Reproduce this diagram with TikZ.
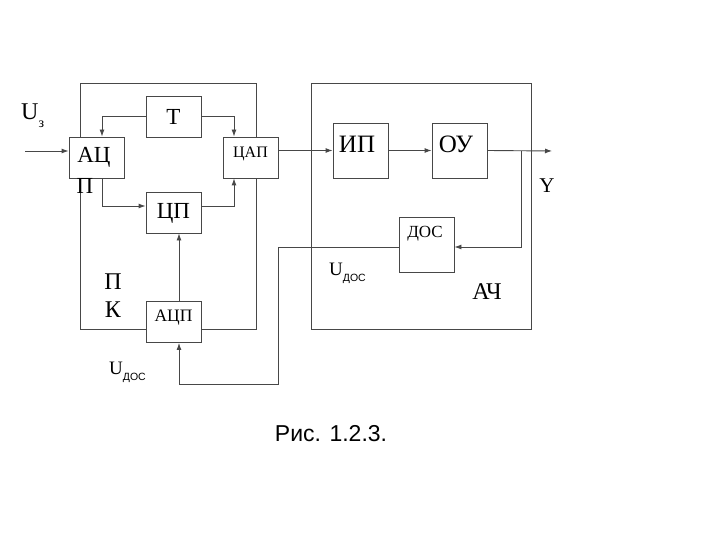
\documentclass[tikz,border=0pt]{standalone}
\usepackage{fontspec}
\setmainfont{Liberation Serif}
\newfontfamily\sansf{Liberation Sans}
\usetikzlibrary{arrows.meta}
\begin{document}
\begin{tikzpicture}[x=1pt,y=-1pt,
  ln/.style={draw=black!72, line width=0.9pt},
  frame/.style={ln, inner sep=0pt},
  blk/.style={ln, fill=white, inner sep=0pt, minimum width=55pt, minimum height=41pt},
  arr/.style={ln, -{Latex[length=7pt,width=5pt]}},
  txt/.style={inner sep=0pt, font=\fontsize{23}{23}\selectfont},
  small/.style={inner sep=0pt, font=\fontsize{16}{16}\selectfont}]
\useasboundingbox (0,0) rectangle (720,540);
% frames
\node[frame, minimum width=176pt, minimum height=246pt] (PK) at (168,206) {};
\node[frame, minimum width=220pt, minimum height=246pt] (ACh) at (421,206) {};
% blocks
\node[blk] (T) at (173.5,116.5) {};
\node[blk] (AC) at (96.5,157.5) {};
\node[blk] (DAC) at (250.5,157.5) {};
\node[blk] (CP) at (173.5,212.5) {};
\node[blk] (ADC) at (173.5,322) {};
\node[blk, minimum height=55pt] (IP) at (360.5,150.5) {};
\node[blk, minimum height=55pt] (OU) at (459.5,150.5) {};
\node[blk, minimum height=55pt] (DOS) at (426.5,244.5) {};
% texts
\node[txt] (tT) at (173.5,117) {Т};
\node[txt] (tAC) at (94,157) {АЦ};
\node[txt] (tACp) at (85,186) {П};
\node[small] (tDAC) at (250.5,154) {ЦАП};
\node[txt] (tCP) at (173.5,213) {ЦП};
\node[inner sep=0pt, font=\fontsize{17.5}{17.5}\selectfont] (tADC) at (173.5,318) {АЦП};
\node[inner sep=0pt, font=\fontsize{25}{25}\selectfont] (tIP) at (357,144) {ИП};
\node[inner sep=0pt, font=\fontsize{25}{25}\selectfont] (tOU) at (456,144) {ОУ};
\node[inner sep=0pt, font=\fontsize{17}{17}\selectfont] (tDOS) at (425,234) {ДОС};
\node[inner sep=0pt, font=\fontsize{24}{24}\selectfont] (tACh) at (487,292) {АЧ};
\node[inner sep=0pt, font=\fontsize{24}{24}\selectfont] (tP) at (113,282) {П};
\node[inner sep=0pt, font=\fontsize{24}{24}\selectfont] (tK) at (113,310) {К};
\node[inner sep=0pt, font=\fontsize{21}{21}\selectfont] (tY) at (547,186) {Y};
\node[inner sep=0pt, font=\fontsize{24}{24}\selectfont, anchor=west] (tUz) at (21,116) {U\raisebox{-0.35em}{\fontsize{14}{14}\selectfont з}};
\node[inner sep=0pt, font=\fontsize{19}{19}\selectfont, anchor=west] (tU1) at (109,372) {U\raisebox{-0.3em}{\sansf\fontsize{10.5}{10.5}\selectfont ДОС}};
\node[inner sep=0pt, font=\fontsize{19}{19}\selectfont, anchor=west] (tU2) at (329,273) {U\raisebox{-0.3em}{\sansf\fontsize{10.5}{10.5}\selectfont ДОС}};
\node[inner sep=0pt, font=\sansf\fontsize{23}{23}\selectfont] (cap) at (331,434) {Рис. 1.2.3.};
% connectors
\coordinate (in) at (25,151);
\coordinate (out) at (552,151);
\coordinate (br) at (521,151);
\coordinate (fb) at (278,384);
\draw[arr] (in) -- ([yshift=6.5pt]AC.west);
\draw[arr] (T.west) -| ([xshift=5.5pt]AC.north);
\draw[arr] (T.east) -| ([xshift=-16.5pt]DAC.north);
\draw[arr] ([xshift=5.5pt]AC.south) |- ([yshift=6.5pt]CP.west);
\draw[arr] ([yshift=6.5pt]CP.east) -| ([xshift=-16.5pt]DAC.south);
\draw[arr] ([xshift=5.5pt]ADC.north) -- ([xshift=5.5pt]CP.south);
\draw[arr] (DAC.east |- IP.west) -- (IP.west);
\draw[arr] (IP.east) -- (OU.west);
\draw[arr] (OU.east) -- (out);
\draw[arr] (br) |- ([yshift=-2.5pt]DOS.east);
\draw[arr] ([yshift=-2.5pt]DOS.west) -| (fb) -| ([xshift=5.5pt]ADC.south);
\end{tikzpicture}
\end{document}
